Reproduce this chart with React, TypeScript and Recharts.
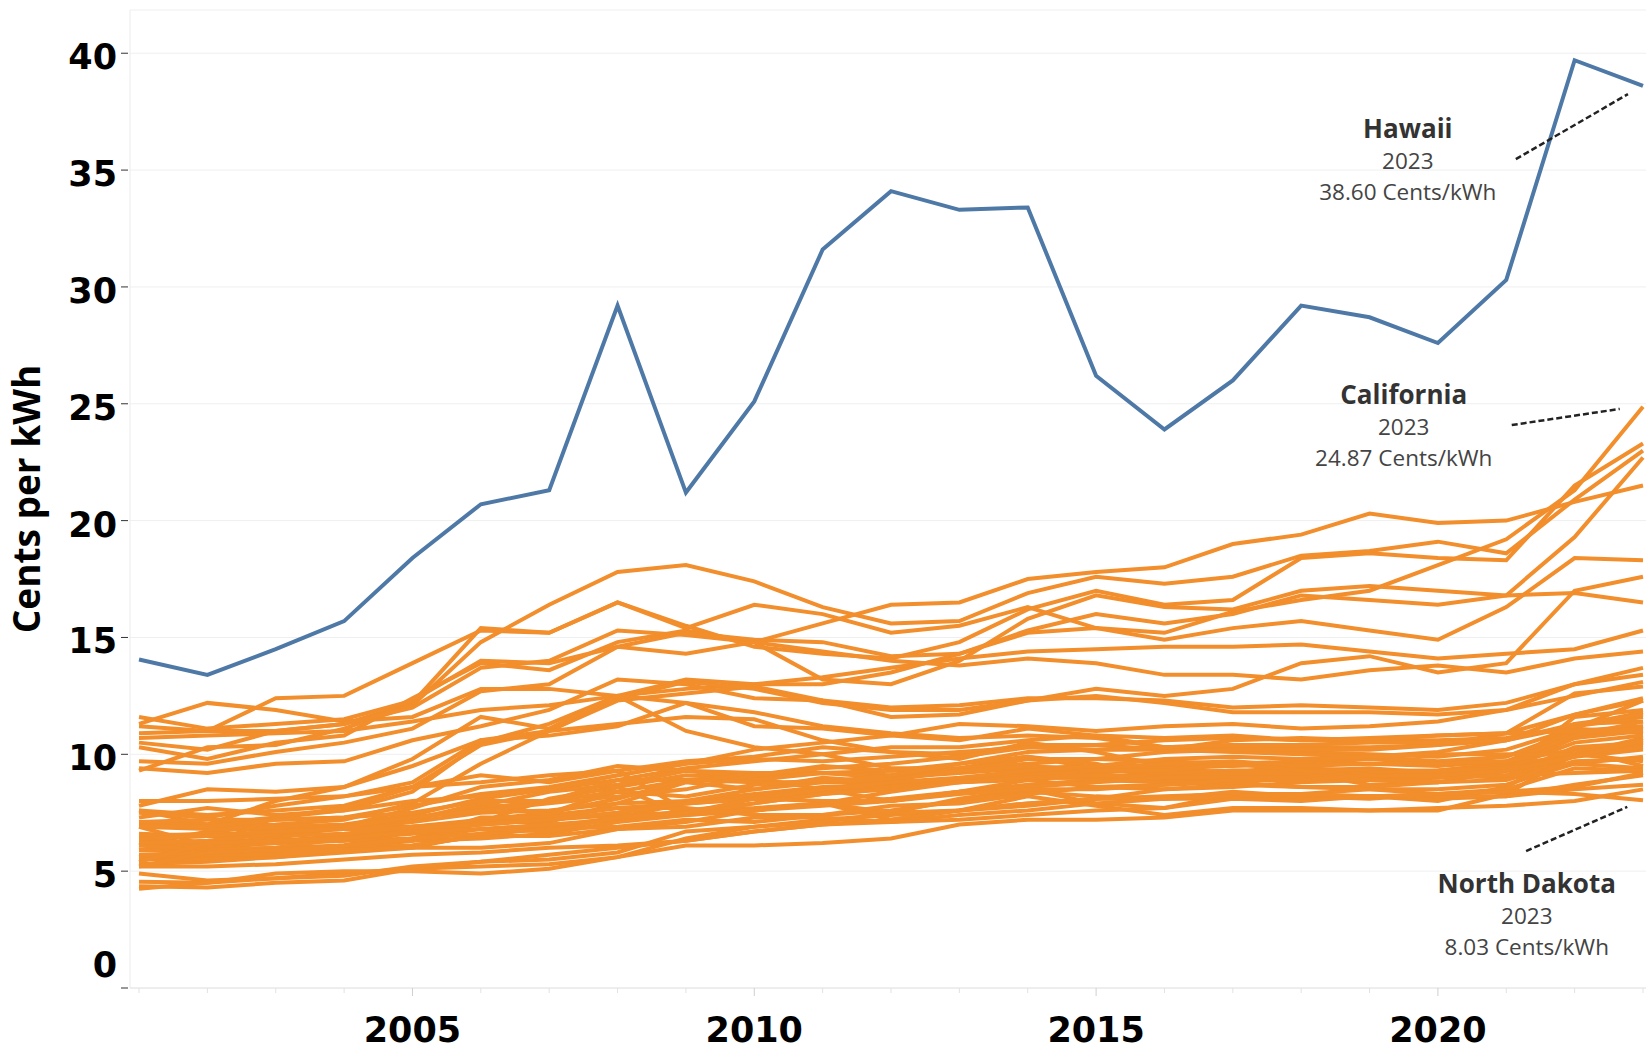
import React from 'react';
import { LineChart, Line, XAxis, YAxis, CartesianGrid, ReferenceLine, ReferenceDot } from 'recharts';

// Average retail price of electricity, cents per kWh, 2001-2023
const years = [2001, 2002, 2003, 2004, 2005, 2006, 2007, 2008, 2009, 2010, 2011, 2012, 2013, 2014, 2015, 2016, 2017, 2018, 2019, 2020, 2021, 2022, 2023];
const yTicks = [0, 5, 10, 15, 20, 25, 30, 35, 40];

const hawaii = [14.06, 13.4, 14.5, 15.7, 18.4, 20.7, 21.3, 29.2, 21.2, 25.1, 31.6, 34.1, 33.3, 33.4, 26.2, 23.9, 26.0, 29.2, 28.7, 27.6, 30.3, 39.7, 38.6];

const california = [11.3, 12.2, 11.9, 11.4, 11.6, 12.8, 12.8, 12.5, 13.2, 13.0, 13.0, 13.5, 14.3, 15.2, 15.4, 15.2, 16.1, 16.6, 17.0, 18.1, 19.2, 21.3, 24.87];
const massachusetts = [10.5, 10.2, 11.0, 11.3, 12.2, 15.4, 15.2, 16.5, 15.5, 14.6, 14.3, 14.1, 14.8, 16.2, 17.0, 16.4, 16.6, 18.4, 18.6, 18.4, 18.3, 21.5, 23.3];
const connecticut = [9.3, 10.3, 10.4, 11.1, 12.1, 14.8, 16.4, 17.8, 18.1, 17.4, 16.3, 15.6, 15.7, 16.9, 17.6, 17.3, 17.6, 18.5, 18.7, 19.1, 18.6, 20.9, 23.0];
const rhodeIsland = [10.3, 9.8, 10.5, 10.8, 12.4, 13.9, 13.6, 14.8, 15.3, 14.8, 13.2, 13.0, 14.0, 15.8, 16.8, 16.3, 16.2, 17.0, 17.2, 17.0, 16.8, 19.3, 22.7];
const alaska = [10.9, 11.0, 11.0, 11.3, 12.0, 13.7, 14.0, 15.3, 15.1, 14.8, 15.6, 16.4, 16.5, 17.5, 17.8, 18.0, 19.0, 19.4, 20.3, 19.9, 20.0, 20.8, 21.5];
const newYork = [11.2, 11.0, 12.4, 12.5, 13.9, 15.3, 15.2, 16.5, 15.4, 16.4, 16.0, 15.2, 15.5, 16.3, 15.4, 14.9, 15.4, 15.7, 15.3, 14.9, 16.3, 18.4, 18.3];
const newHampshire = [11.6, 11.1, 11.3, 11.5, 12.3, 14.0, 13.9, 14.6, 15.2, 14.9, 14.8, 14.2, 14.3, 15.3, 16.0, 15.6, 16.0, 16.8, 16.6, 16.4, 16.8, 16.9, 16.5];
const vermont = [10.7, 10.8, 10.9, 11.0, 11.4, 11.9, 12.1, 12.5, 12.8, 13.0, 13.3, 13.7, 14.1, 14.4, 14.5, 14.6, 14.6, 14.7, 14.4, 14.1, 14.3, 14.5, 15.3];
const newJersey = [9.7, 9.6, 10.1, 10.5, 11.1, 12.7, 13.0, 14.6, 14.3, 14.8, 14.4, 14.0, 13.8, 14.1, 13.9, 13.4, 13.4, 13.2, 13.6, 13.8, 13.5, 14.1, 14.4];
const maine = [9.4, 9.2, 9.6, 9.7, 10.6, 11.2, 11.9, 13.2, 13.0, 12.4, 12.3, 11.6, 11.7, 12.3, 12.8, 12.5, 12.8, 13.9, 14.2, 13.5, 13.9, 17.0, 17.6];
const districtOfColumbia = [7.6, 7.4, 7.6, 7.8, 8.6, 10.4, 11.0, 12.3, 12.6, 12.9, 12.3, 12.0, 12.1, 12.4, 12.4, 12.3, 12.0, 12.1, 12.0, 11.9, 12.2, 13.0, 13.4];
const maryland = [7.0, 6.9, 7.0, 7.2, 7.9, 9.6, 11.0, 12.4, 13.1, 12.8, 12.2, 11.9, 11.9, 12.3, 12.5, 12.2, 11.8, 11.8, 11.8, 11.7, 11.9, 12.5, 13.1];
const delaware = [7.1, 7.0, 7.3, 7.6, 8.4, 10.5, 11.3, 12.5, 12.2, 11.8, 11.2, 10.9, 10.7, 10.8, 10.7, 10.3, 10.3, 10.1, 10.0, 9.9, 10.2, 11.1, 12.3];
const texas = [7.6, 7.0, 8.0, 8.6, 9.8, 11.6, 11.1, 12.5, 11.0, 10.3, 10.0, 9.4, 9.4, 9.9, 9.6, 8.9, 9.1, 9.1, 9.1, 9.1, 9.3, 11.1, 10.9];
const florida = [7.5, 7.3, 7.8, 8.2, 8.8, 10.6, 10.8, 11.2, 12.2, 11.2, 11.1, 10.8, 10.6, 11.1, 10.8, 10.3, 10.4, 10.3, 10.3, 10.4, 10.9, 12.6, 12.9];
const nevada = [7.8, 8.5, 8.4, 8.6, 9.5, 10.6, 11.0, 11.3, 11.6, 11.5, 10.6, 10.1, 9.8, 10.5, 10.1, 9.5, 9.1, 9.2, 8.7, 8.8, 9.3, 11.6, 11.9];
const pennsylvania = [8.0, 8.0, 8.1, 8.2, 8.6, 8.8, 9.1, 9.3, 9.7, 9.9, 10.3, 10.1, 10.0, 10.4, 10.4, 10.2, 10.1, 10.0, 9.9, 10.1, 10.6, 11.7, 12.3];
const michigan = [7.1, 7.2, 7.2, 7.3, 7.8, 8.3, 8.6, 9.1, 9.6, 10.2, 10.5, 10.8, 11.3, 11.2, 11.0, 11.2, 11.3, 11.1, 11.2, 11.4, 11.9, 13.0, 13.7];
const wisconsin = [6.1, 6.7, 6.9, 7.0, 7.4, 8.1, 8.5, 8.9, 9.4, 9.7, 10.0, 10.3, 10.3, 10.6, 10.8, 10.7, 10.8, 10.6, 10.7, 10.8, 10.9, 11.7, 12.4];
const illinois = [6.9, 6.8, 6.8, 6.9, 6.9, 7.1, 8.1, 8.6, 9.1, 9.0, 8.5, 8.0, 8.4, 8.9, 9.2, 9.4, 9.2, 9.0, 9.1, 9.3, 9.6, 11.3, 11.4];
const ohio = [6.6, 6.5, 6.7, 6.9, 7.2, 7.8, 8.4, 8.7, 9.3, 9.2, 9.2, 9.3, 9.3, 9.8, 9.8, 9.7, 9.6, 9.4, 9.3, 9.3, 9.6, 10.7, 11.2];
const arizona = [7.3, 7.7, 7.4, 7.6, 8.0, 8.2, 8.5, 9.1, 9.6, 9.8, 9.7, 9.9, 10.1, 10.3, 10.4, 10.6, 10.7, 10.6, 10.6, 10.6, 10.7, 11.2, 11.8];
const louisiana = [6.9, 6.1, 7.3, 7.7, 8.6, 9.1, 8.8, 9.3, 7.6, 7.7, 7.9, 7.2, 7.6, 8.2, 7.8, 7.4, 7.7, 7.7, 7.6, 7.6, 8.3, 10.0, 9.7];
const mississippi = [6.3, 6.2, 6.4, 6.9, 7.7, 8.6, 8.9, 9.5, 9.3, 9.0, 9.2, 9.1, 9.3, 9.5, 9.3, 9.2, 9.3, 9.3, 9.4, 9.2, 9.5, 11.0, 11.1];
const georgia = [6.2, 6.1, 6.3, 6.5, 7.3, 7.7, 8.0, 8.9, 8.9, 9.1, 9.5, 9.3, 9.6, 9.9, 9.4, 9.1, 9.2, 9.6, 9.8, 9.6, 9.9, 11.0, 11.2];
const alabama = [5.6, 5.7, 5.9, 6.1, 6.7, 7.1, 7.5, 8.4, 8.9, 8.9, 9.2, 9.0, 9.2, 9.4, 9.5, 9.5, 9.6, 9.7, 9.9, 9.7, 9.9, 10.9, 11.1];
const southCarolina = [5.5, 5.6, 5.6, 5.8, 6.0, 6.6, 6.9, 7.3, 7.9, 8.1, 8.4, 8.6, 8.8, 9.0, 9.0, 9.2, 9.3, 9.3, 9.3, 9.3, 9.5, 10.0, 10.7];
const northCarolina = [6.5, 6.6, 6.6, 6.8, 7.1, 7.5, 7.6, 7.9, 8.0, 8.3, 8.6, 8.7, 8.9, 9.0, 9.0, 8.8, 8.9, 8.9, 9.0, 9.1, 9.0, 9.9, 10.5];
const virginia = [5.9, 6.0, 6.2, 6.3, 6.9, 7.2, 7.5, 8.1, 8.9, 8.8, 8.8, 8.8, 8.8, 8.9, 8.6, 8.5, 8.6, 8.8, 8.9, 9.0, 9.4, 10.7, 11.0];
const tennessee = [5.7, 5.7, 5.9, 6.0, 6.3, 7.1, 7.1, 7.9, 8.8, 8.5, 9.0, 8.8, 8.9, 9.2, 9.4, 9.2, 9.3, 9.3, 9.3, 9.2, 9.4, 10.5, 10.8];
const kentucky = [4.35, 4.3, 4.5, 4.6, 5.1, 5.4, 5.5, 5.8, 6.7, 6.9, 7.2, 7.4, 7.6, 7.9, 8.1, 8.2, 8.3, 8.3, 8.5, 8.5, 8.7, 9.6, 9.4];
const westVirginia = [4.9, 4.6, 4.7, 4.9, 5.1, 5.2, 5.3, 5.6, 6.4, 6.9, 7.1, 7.5, 7.6, 7.8, 8.1, 8.5, 8.7, 8.6, 8.6, 8.8, 9.3, 9.6, 9.9];
const indiana = [5.3, 5.4, 5.6, 5.9, 6.1, 6.5, 6.9, 7.2, 7.6, 7.9, 8.3, 8.6, 8.9, 9.1, 9.3, 9.4, 9.5, 9.6, 9.6, 9.5, 9.7, 10.8, 11.4];
const iowa = [6.1, 6.1, 6.2, 6.3, 6.4, 6.8, 7.0, 7.2, 7.4, 7.6, 7.9, 8.1, 8.4, 8.7, 8.9, 8.8, 8.9, 9.0, 8.9, 8.8, 8.9, 9.7, 9.8];
const minnesota = [5.9, 6.1, 6.2, 6.5, 6.9, 7.1, 7.4, 7.7, 7.9, 8.2, 8.5, 8.9, 9.4, 9.6, 9.8, 10.1, 10.2, 10.2, 10.2, 10.4, 10.6, 11.2, 11.6];
const missouri = [5.9, 5.9, 6.0, 6.1, 6.3, 6.4, 6.6, 7.1, 7.4, 7.9, 8.3, 8.5, 8.9, 9.3, 9.4, 9.6, 9.7, 9.5, 9.6, 9.6, 9.7, 10.2, 10.4];
const kansas = [6.4, 6.5, 6.5, 6.6, 6.9, 7.0, 7.2, 7.5, 8.0, 8.5, 8.8, 9.1, 9.6, 10.1, 10.2, 10.2, 10.6, 10.7, 10.6, 10.8, 10.9, 11.0, 11.0];
const nebraska = [5.5, 5.5, 5.8, 6.0, 6.1, 6.5, 6.5, 6.8, 7.1, 7.6, 7.9, 8.4, 8.8, 9.0, 9.1, 9.0, 9.2, 9.2, 9.1, 9.1, 9.1, 9.2, 9.3];
const oklahoma = [6.1, 5.9, 6.6, 6.9, 7.2, 7.9, 7.4, 8.6, 7.4, 7.6, 7.9, 7.5, 8.1, 8.5, 7.9, 7.7, 8.3, 8.1, 8.2, 8.0, 8.6, 10.2, 9.5];
const arkansas = [5.6, 5.7, 5.7, 5.9, 6.4, 7.3, 7.3, 7.7, 7.7, 7.4, 7.4, 7.6, 8.0, 8.4, 8.2, 8.1, 8.4, 8.2, 8.1, 8.3, 8.5, 9.4, 9.3];
const newMexico = [6.9, 6.9, 7.2, 7.3, 7.5, 8.0, 8.0, 8.4, 8.2, 8.7, 8.9, 8.9, 9.3, 9.5, 9.3, 9.3, 9.6, 9.3, 9.1, 9.0, 9.1, 10.3, 10.5];
const colorado = [6.2, 6.3, 6.6, 6.9, 7.3, 7.6, 7.9, 8.2, 8.5, 9.1, 9.4, 9.6, 9.9, 10.3, 10.2, 10.3, 10.4, 10.4, 10.5, 10.5, 10.6, 11.3, 11.7];
const utah = [5.2, 5.2, 5.3, 5.5, 5.7, 5.8, 6.0, 6.1, 6.3, 6.7, 7.0, 7.2, 7.6, 7.9, 8.1, 8.1, 8.1, 8.1, 8.2, 8.1, 8.2, 8.7, 9.1];
const wyoming = [4.55, 4.5, 4.7, 4.8, 5.2, 5.4, 5.7, 6.0, 6.3, 6.7, 7.0, 7.1, 7.4, 7.6, 7.9, 8.1, 8.2, 8.3, 8.2, 8.2, 8.2, 8.5, 8.7];
const idaho = [4.25, 4.5, 4.9, 5.0, 5.0, 4.9, 5.1, 5.6, 6.1, 6.1, 6.2, 6.4, 7.0, 7.2, 7.2, 7.3, 7.6, 7.6, 7.6, 7.7, 7.8, 8.0, 8.5];
const montana = [5.6, 5.9, 6.0, 6.4, 6.6, 7.0, 7.2, 7.4, 7.5, 7.6, 7.8, 8.0, 8.4, 8.6, 8.8, 9.0, 9.0, 9.0, 9.2, 9.3, 9.4, 9.9, 10.2];
const northDakota = [5.7, 5.8, 5.9, 6.1, 6.4, 6.6, 6.8, 6.9, 7.2, 7.1, 7.4, 7.8, 7.9, 8.3, 8.6, 8.7, 8.8, 8.6, 8.5, 8.3, 8.4, 8.3, 8.03];
const southDakota = [6.4, 6.5, 6.7, 6.8, 6.8, 7.0, 7.2, 7.5, 7.9, 8.1, 8.5, 8.8, 9.0, 9.3, 9.5, 9.8, 9.9, 9.8, 9.9, 10.0, 10.0, 10.0, 10.3];
const washington = [5.2, 5.8, 5.9, 5.9, 6.0, 6.0, 6.2, 6.8, 6.9, 7.3, 7.3, 7.1, 7.2, 7.4, 7.6, 7.7, 8.1, 8.0, 8.2, 8.3, 8.4, 8.6, 9.2];
const oregon = [5.4, 6.2, 6.3, 6.4, 6.7, 6.8, 6.7, 7.3, 7.5, 8.1, 8.0, 8.0, 8.3, 8.5, 8.5, 8.7, 8.9, 8.9, 9.1, 9.1, 9.3, 9.9, 10.6];

const otherStates = [
  { name: 'California', values: california },
  { name: 'Massachusetts', values: massachusetts },
  { name: 'Connecticut', values: connecticut },
  { name: 'Rhode Island', values: rhodeIsland },
  { name: 'Alaska', values: alaska },
  { name: 'New York', values: newYork },
  { name: 'New Hampshire', values: newHampshire },
  { name: 'Vermont', values: vermont },
  { name: 'New Jersey', values: newJersey },
  { name: 'Maine', values: maine },
  { name: 'District of Columbia', values: districtOfColumbia },
  { name: 'Maryland', values: maryland },
  { name: 'Delaware', values: delaware },
  { name: 'Texas', values: texas },
  { name: 'Florida', values: florida },
  { name: 'Nevada', values: nevada },
  { name: 'Pennsylvania', values: pennsylvania },
  { name: 'Michigan', values: michigan },
  { name: 'Wisconsin', values: wisconsin },
  { name: 'Illinois', values: illinois },
  { name: 'Ohio', values: ohio },
  { name: 'Arizona', values: arizona },
  { name: 'Louisiana', values: louisiana },
  { name: 'Mississippi', values: mississippi },
  { name: 'Georgia', values: georgia },
  { name: 'Alabama', values: alabama },
  { name: 'South Carolina', values: southCarolina },
  { name: 'North Carolina', values: northCarolina },
  { name: 'Virginia', values: virginia },
  { name: 'Tennessee', values: tennessee },
  { name: 'Kentucky', values: kentucky },
  { name: 'West Virginia', values: westVirginia },
  { name: 'Indiana', values: indiana },
  { name: 'Iowa', values: iowa },
  { name: 'Minnesota', values: minnesota },
  { name: 'Missouri', values: missouri },
  { name: 'Kansas', values: kansas },
  { name: 'Nebraska', values: nebraska },
  { name: 'Oklahoma', values: oklahoma },
  { name: 'Arkansas', values: arkansas },
  { name: 'New Mexico', values: newMexico },
  { name: 'Colorado', values: colorado },
  { name: 'Utah', values: utah },
  { name: 'Wyoming', values: wyoming },
  { name: 'Idaho', values: idaho },
  { name: 'Montana', values: montana },
  { name: 'North Dakota', values: northDakota },
  { name: 'South Dakota', values: southDakota },
  { name: 'Washington', values: washington },
  { name: 'Oregon', values: oregon },
];

// callouts: label anchor + dashed leader (in data units)
const callouts = [
  { title: 'Hawaii', year: '2023', value: '38.60 Cents/kWh', at: { x: 2019.56, y: 36.37 }, leader: [{ x: 2021.14, y: 35.47 }, { x: 2022.78, y: 38.25 }] },
  { title: 'California', year: '2023', value: '24.87 Cents/kWh', at: { x: 2019.5, y: 24.99 }, leader: [{ x: 2021.08, y: 24.09 }, { x: 2022.66, y: 24.78 }] },
  { title: 'North Dakota', year: '2023', value: '8.03 Cents/kWh', at: { x: 2021.3, y: 4.07 }, leader: [{ x: 2021.29, y: 5.86 }, { x: 2022.77, y: 7.75 }] },
];

const rows = years.map((year, i) => {
  const row: Record<string, number> = { year, Hawaii: hawaii[i] };
  otherStates.forEach((s) => {
    row[s.name] = s.values[i];
  });
  return row;
});

const ORANGE = '#F28E2B';
const BLUE = '#4E79A7';
const TICK_FONT = '"DejaVu Sans", sans-serif';

const YTick = (props: any) => {
  const { x, y, payload } = props;
  const labelY = payload.value === 0 ? y - 27 : y;
  return (
    <g>
      <line x1={x - 9} x2={x - 2} y1={y} y2={y} stroke="#333" strokeWidth={1} />
      <text x={x - 13} y={labelY + 16} textAnchor="end" fontFamily={TICK_FONT} fontWeight="bold" fontSize={35} fill="#000">
        {payload.value}
      </text>
    </g>
  );
};

const XTick = (props: any) => {
  const { x, y, payload } = props;
  const major = payload.value % 5 === 0;
  return (
    <g>
      <line x1={x} x2={x} y1={y} y2={y + (major ? 8 : 5)} stroke={major ? '#cfcfcf' : '#e2e2e2'} strokeWidth={1} />
      {major && (
        <text x={x} y={y + 54} textAnchor="middle" fontFamily={TICK_FONT} fontWeight="bold" fontSize={35} fill="#000">
          {payload.value}
        </text>
      )}
    </g>
  );
};

const CalloutText = ({ cx, cy, title, year, value }: any) => (
  <g fontFamily='"Open Sans", sans-serif' textAnchor="middle">
    <text x={cx} y={cy} fontSize={26} fontWeight="bold" fill="#333">{title}</text>
    <text x={cx} y={cy + 31} fontSize={22.5} fill="#444">{year}</text>
    <text x={cx} y={cy + 62} fontSize={22.5} fill="#444">{value}</text>
  </g>
);

export default function App() {
  return (
    <div style={{ position: 'absolute', left: 0, top: 0, width: 1646, height: 1049, background: '#fff' }}>
      <LineChart width={1646} height={1049} data={rows} margin={{ top: 10, right: 0, bottom: 0, left: 0 }}>
        <CartesianGrid vertical={false} stroke="#efefef" />
        <XAxis
          dataKey="year"
          type="number"
          domain={[2000.868, 2023.044]}
          ticks={years}
          interval={0}
          allowDataOverflow
          height={61}
          tickSize={0}
          tickMargin={0}
          tickLine={false}
          axisLine={{ stroke: '#e4e4e4' }}
          tick={<XTick />}
        />
        <YAxis
          type="number"
          domain={[0, 41.85]}
          ticks={yTicks}
          interval={0}
          allowDataOverflow
          width={130}
          tickSize={0}
          tickMargin={0}
          tickLine={false}
          axisLine={{ stroke: '#ebebeb' }}
          tick={<YTick />}
          label={{
            value: 'Cents per kWh',
            angle: -90,
            position: 'insideLeft',
            dx: 22,
            style: { fontFamily: '"Open Sans", sans-serif', fontWeight: 'bold', fontSize: 37, fill: '#000', textAnchor: 'middle' },
          }}
        />
        {otherStates.map((s) => (
          <Line
            key={s.name}
            type="linear"
            dataKey={s.name}
            stroke={ORANGE}
            strokeWidth={4}
            dot={false}
            activeDot={false}
            isAnimationActive={false}
          />
        ))}
        <Line type="linear" dataKey="Hawaii" stroke={BLUE} strokeWidth={4} dot={false} activeDot={false} isAnimationActive={false} />
        {callouts.map((c) => (
          <ReferenceLine
            key={c.title + '-leader'}
            segment={c.leader}
            stroke="#222"
            strokeWidth={2.5}
            strokeDasharray="6 3"
          />
        ))}
        {callouts.map((c) => (
          <ReferenceDot
            key={c.title + '-text'}
            x={c.at.x}
            y={c.at.y}
            r={0}
            shape={(p: any) => <CalloutText cx={p.cx} cy={p.cy} title={c.title} year={c.year} value={c.value} />}
          />
        ))}
      </LineChart>
    </div>
  );
}
